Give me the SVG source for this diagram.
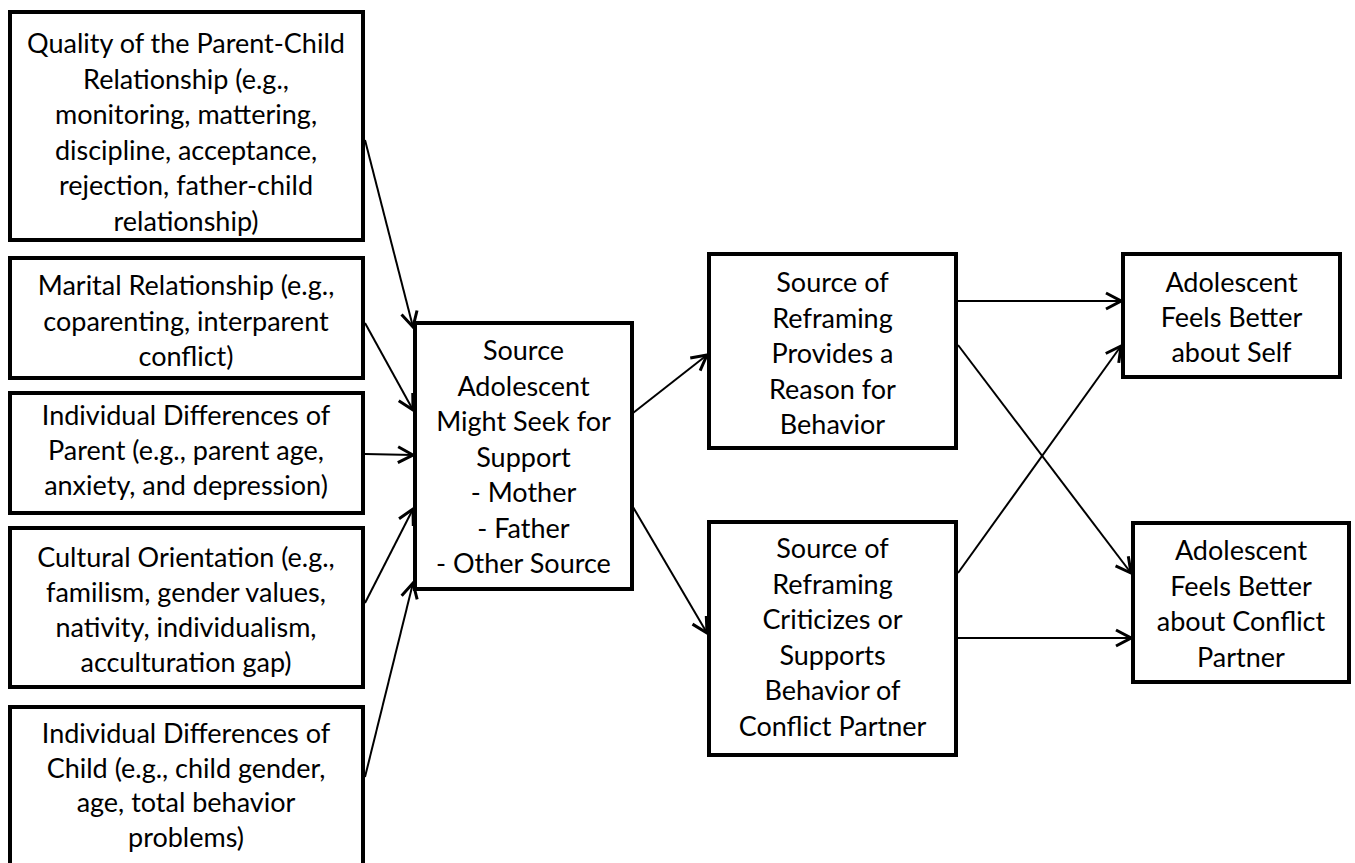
<svg xmlns="http://www.w3.org/2000/svg" width="1355" height="863" viewBox="0 0 1355 863">
<defs>
<style>
.box{fill:#fff;stroke:#000;stroke-width:4}
.t{font-family:Lato,"Liberation Sans",sans-serif;font-size:27px;fill:#000;text-anchor:middle}
.c{stroke:#000;stroke-width:2;fill:none}
</style>
<marker id="ah" markerUnits="userSpaceOnUse" viewBox="-17 -11 19 22" markerWidth="19" markerHeight="22" refX="0" refY="0" orient="auto">
<path d="M-15,-8 L0,0 L-15,8" fill="none" stroke="#000" stroke-width="3" stroke-linejoin="miter"/>
</marker>
</defs>
<rect width="1355" height="863" fill="#fff"/>
<g id="n1"><rect class="box" x="10" y="12" width="353" height="228"/>
<text class="t"><tspan x="186" y="53">Quality of the Parent-Child</tspan><tspan x="186" y="88.5">Relationship (e.g.,</tspan><tspan x="186" y="124">monitoring, mattering,</tspan><tspan x="186" y="159.5">discipline, acceptance,</tspan><tspan x="186" y="195">rejection, father-child</tspan><tspan x="186" y="230.5">relationship)</tspan></text></g>
<g id="n2"><rect class="box" x="10" y="258" width="353" height="120"/>
<text class="t"><tspan x="186" y="295">Marital Relationship (e.g.,</tspan><tspan x="186" y="330.5">coparenting, interparent</tspan><tspan x="186" y="366">conflict)</tspan></text></g>
<g id="n3"><rect class="box" x="10" y="393" width="353" height="120"/>
<text class="t"><tspan x="186" y="425">Individual Differences of</tspan><tspan x="186" y="460">Parent (e.g., parent age,</tspan><tspan x="186" y="495">anxiety, and depression)</tspan></text></g>
<g id="n4"><rect class="box" x="10" y="528" width="353" height="159"/>
<text class="t"><tspan x="186" y="567">Cultural Orientation (e.g.,</tspan><tspan x="186" y="602">familism, gender values,</tspan><tspan x="186" y="637">nativity, individualism,</tspan><tspan x="186" y="672">acculturation gap)</tspan></text></g>
<g id="n5"><rect class="box" x="10" y="707" width="353" height="170"/>
<text class="t"><tspan x="186" y="743">Individual Differences of</tspan><tspan x="186" y="777.5">Child (e.g., child gender,</tspan><tspan x="186" y="812">age, total behavior</tspan><tspan x="186" y="846.5">problems)</tspan></text></g>
<g id="n6"><rect class="box" x="415" y="323" width="217" height="266"/>
<text class="t"><tspan x="523.5" y="360">Source</tspan><tspan x="523.5" y="395.5">Adolescent</tspan><tspan x="523.5" y="431">Might Seek for</tspan><tspan x="523.5" y="466.5">Support</tspan><tspan x="523.5" y="502">- Mother</tspan><tspan x="523.5" y="537.5">- Father</tspan><tspan x="523.5" y="573">- Other Source</tspan></text></g>
<g id="n7"><rect class="box" x="709" y="254" width="247" height="194"/>
<text class="t"><tspan x="832.5" y="292">Source of</tspan><tspan x="832.5" y="327.5">Reframing</tspan><tspan x="832.5" y="363">Provides a</tspan><tspan x="832.5" y="398.5">Reason for</tspan><tspan x="832.5" y="434">Behavior</tspan></text></g>
<g id="n8"><rect class="box" x="709" y="522" width="247" height="233"/>
<text class="t"><tspan x="832.5" y="558">Source of</tspan><tspan x="832.5" y="593.5">Reframing</tspan><tspan x="832.5" y="629">Criticizes or</tspan><tspan x="832.5" y="664.5">Supports</tspan><tspan x="832.5" y="700">Behavior of</tspan><tspan x="832.5" y="735.5">Conflict Partner</tspan></text></g>
<g id="n9"><rect class="box" x="1123" y="254" width="217" height="123"/>
<text class="t"><tspan x="1231.5" y="292">Adolescent</tspan><tspan x="1231.5" y="327">Feels Better</tspan><tspan x="1231.5" y="362">about Self</tspan></text></g>
<g id="n10"><rect class="box" x="1133" y="523" width="216" height="159"/>
<text class="t"><tspan x="1241" y="560">Adolescent</tspan><tspan x="1241" y="595.5">Feels Better</tspan><tspan x="1241" y="631">about Conflict</tspan><tspan x="1241" y="666.5">Partner</tspan></text></g>
<g id="connectors">
<line class="c" x1="365" y1="140" x2="413" y2="327" marker-end="url(#ah)"/>
<line class="c" x1="365" y1="323" x2="413" y2="410" marker-end="url(#ah)"/>
<line class="c" x1="365" y1="454" x2="413" y2="455" marker-end="url(#ah)"/>
<line class="c" x1="365" y1="603" x2="413" y2="509" marker-end="url(#ah)"/>
<line class="c" x1="365" y1="777" x2="413" y2="583" marker-end="url(#ah)"/>
<line class="c" x1="633" y1="413" x2="707" y2="355" marker-end="url(#ah)"/>
<line class="c" x1="633" y1="507" x2="707" y2="633" marker-end="url(#ah)"/>
<line class="c" x1="958" y1="301" x2="1121" y2="301" marker-end="url(#ah)"/>
<line class="c" x1="958" y1="345" x2="1131" y2="573" marker-end="url(#ah)"/>
<line class="c" x1="958" y1="573" x2="1121" y2="346" marker-end="url(#ah)"/>
<line class="c" x1="958" y1="638" x2="1131" y2="638" marker-end="url(#ah)"/>
</g>
</svg>
